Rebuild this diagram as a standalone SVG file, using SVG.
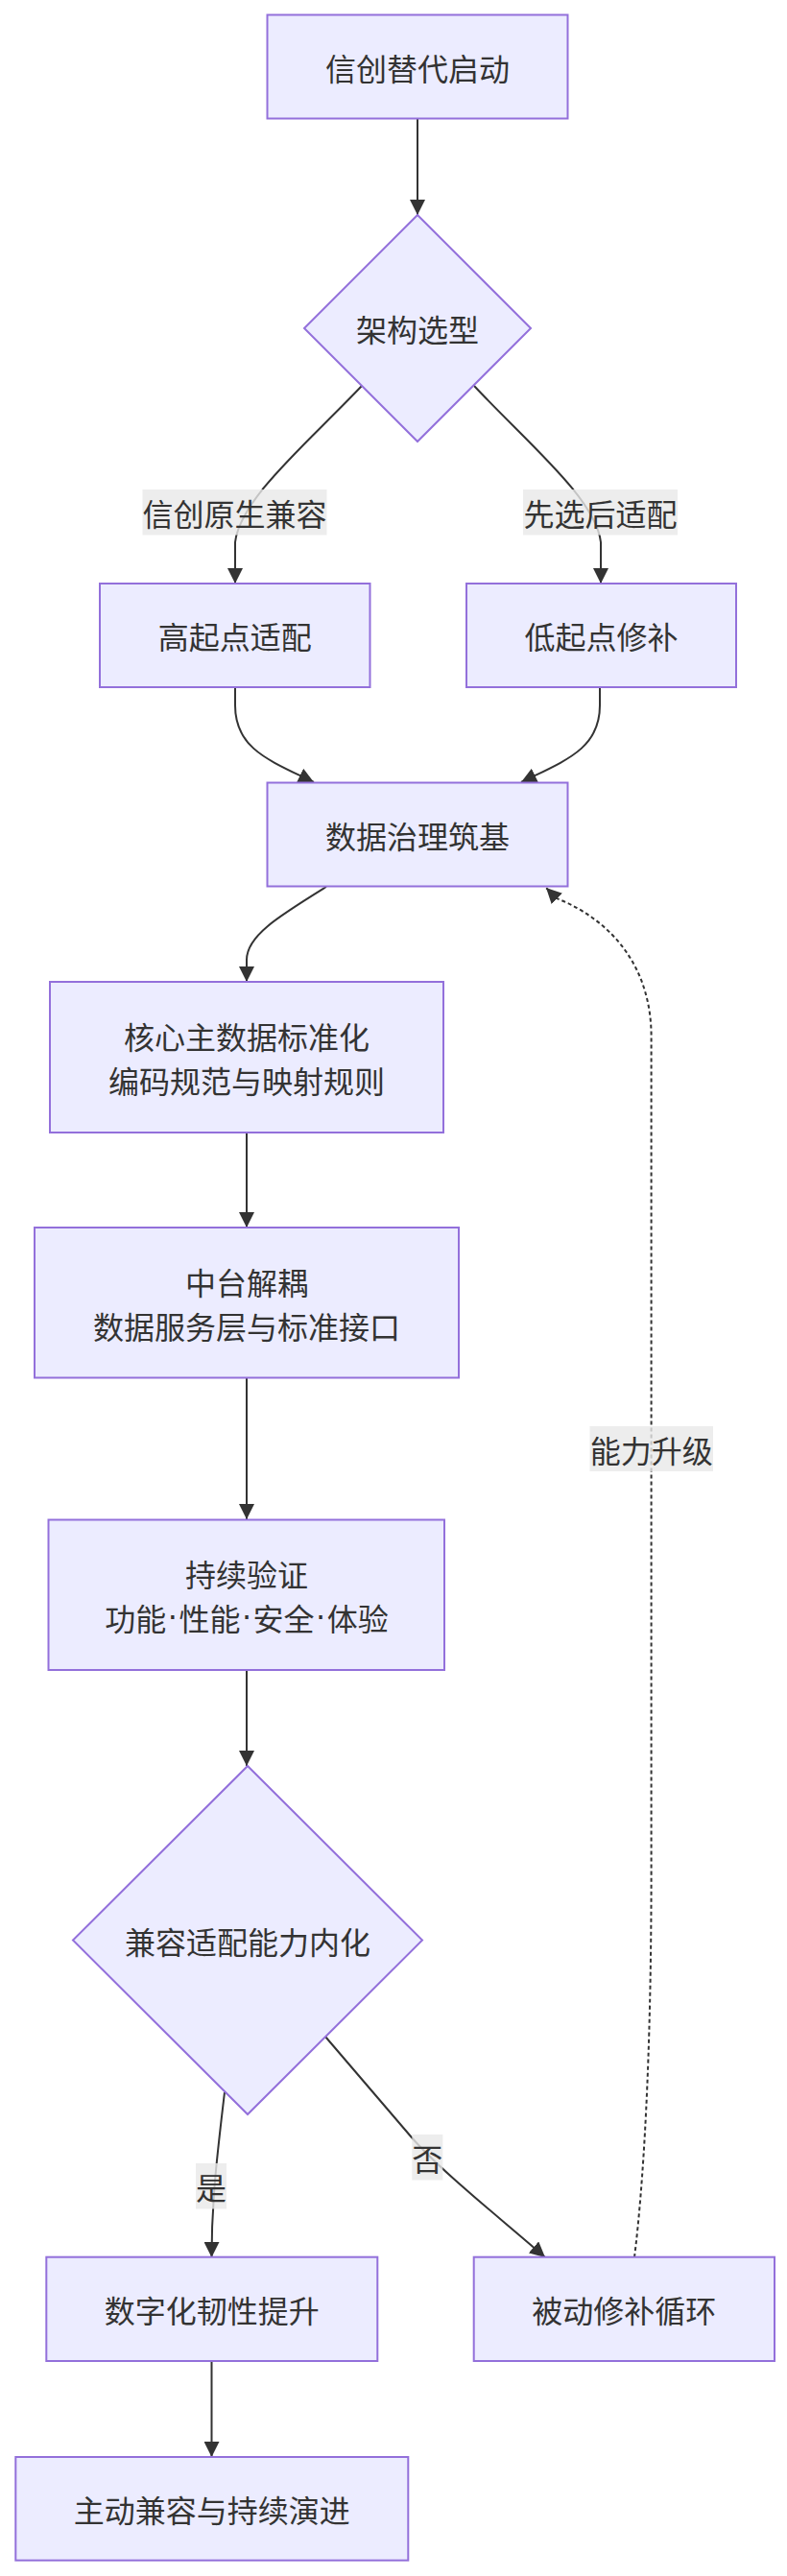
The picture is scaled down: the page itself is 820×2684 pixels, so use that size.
<svg xmlns="http://www.w3.org/2000/svg" width="820" height="2684" viewBox="0 0 820 2684">
<style>
.node rect,.node polygon{fill:#ECECFF;stroke:#9370DB;stroke-width:2}
.t{font-family:"Noto Sans CJK SC","Noto Sans",sans-serif;font-size:32px;fill:#333;text-anchor:middle;dominant-baseline:central}
.dot{font-family:"DejaVu Sans",sans-serif}
.e{fill:none;stroke:#333;stroke-width:2}
.d{stroke-dasharray:4 3}
.lb{fill:#e8e8e8;fill-opacity:0.8}
</style>
<defs>
<marker id="ah" viewBox="0 0 10 10" refX="10" refY="5" markerUnits="userSpaceOnUse" markerWidth="16" markerHeight="16" orient="auto">
<path d="M0,0 L10,5 L0,10 z" fill="#333"/>
</marker>
</defs>
<rect width="820" height="2684" fill="#fff"/>
<g id="edges">
<path class="e" d="M435,124 L435,224" marker-end="url(#ah)"/>
<path class="e" d="M377,402 C320,462 250,520 245,565 L245,608" marker-end="url(#ah)"/>
<path class="e" d="M494,402 C550,462 621,520 626,565 L626,608" marker-end="url(#ah)"/>
<path class="e" d="M245,716 L245,735 C245,780 280,792 327,815" marker-end="url(#ah)"/>
<path class="e" d="M625,716 L625,735 C625,780 590,792 543,815" marker-end="url(#ah)"/>
<path class="e" d="M340,924 C290,955 257,975 257,1000 L257,1023" marker-end="url(#ah)"/>
<path class="e" d="M257,1180 L257,1279" marker-end="url(#ah)"/>
<path class="e" d="M257,1435 L257,1583" marker-end="url(#ah)"/>
<path class="e" d="M257,1740 L257,1840" marker-end="url(#ah)"/>
<path class="e" d="M234,2180 C227,2240 220.5,2290 220.5,2352" marker-end="url(#ah)"/>
<path class="e" d="M339,2122 L428,2226 C460,2263 520,2310 568,2352" marker-end="url(#ah)"/>
<path class="e" d="M220.5,2460 L220.5,2560" marker-end="url(#ah)"/>
<path class="e d" d="M661,2352 C670,2280 678.6,2150 678.6,1950 L678.6,1080 C678.6,1010 640,960 580,936 L569,925" marker-end="url(#ah)"/>
<g id="edge-labels">
<rect class="lb" x="148.5" y="510" width="192" height="47.5"/>
<text class="t" x="244.5" y="534">信创原生兼容</text>
<rect class="lb" x="545" y="510" width="161" height="47.5"/>
<text class="t" x="625.5" y="534">先选后适配</text>
<rect class="lb" x="614.5" y="1486" width="128.5" height="47"/>
<text class="t" x="678.7" y="1509.5">能力升级</text>
<rect class="lb" x="204" y="2254" width="32" height="47.5"/>
<text class="t" x="220" y="2278">是</text>
<rect class="lb" x="429.3" y="2224" width="32" height="47.5"/>
<text class="t" x="445.3" y="2248">否</text>
</g>
</g>
<g id="A" class="node"><rect x="278.5" y="15.5" width="313" height="108"/><text class="t" x="435" y="69.5">信创替代启动</text></g>
<g id="B" class="node"><polygon points="435,224 553,342 435,460 317,342"/><text class="t" x="435" y="342">架构选型</text></g>
<g id="C" class="node"><rect x="104" y="608" width="281.5" height="108"/><text class="t" x="244.75" y="662">高起点适配</text></g>
<g id="D" class="node"><rect x="486" y="608" width="281" height="108"/><text class="t" x="626.5" y="662">低起点修补</text></g>
<g id="E" class="node"><rect x="278.5" y="815.5" width="313" height="108"/><text class="t" x="435" y="869.5">数据治理筑基</text></g>
<g id="F" class="node"><rect x="52" y="1023" width="410" height="157"/><text class="t" x="257" y="1079">核心主数据标准化</text><text class="t" x="257" y="1125">编码规范与映射规则</text></g>
<g id="G" class="node"><rect x="36" y="1279" width="442" height="156.5"/><text class="t" x="257" y="1335">中台解耦</text><text class="t" x="257" y="1381">数据服务层与标准接口</text></g>
<g id="H" class="node"><rect x="50.5" y="1583.5" width="412.5" height="156.5"/><text class="t" x="257" y="1639">持续验证</text><text class="t" x="257" y="1685">功能<tspan class="dot" dx="1.5">·</tspan><tspan dx="1.5">性能</tspan><tspan class="dot" dx="1.5">·</tspan><tspan dx="1.5">安全</tspan><tspan class="dot" dx="1.5">·</tspan><tspan dx="1.5">体验</tspan></text></g>
<g id="I" class="node"><polygon points="258,1840 440,2021.5 258,2203 76,2021.5"/><text class="t" x="258" y="2021.5">兼容适配能力内化</text></g>
<g id="J" class="node"><rect x="48.3" y="2351.7" width="345" height="108.3"/><text class="t" x="220.8" y="2406">数字化韧性提升</text></g>
<g id="K" class="node"><rect x="493.7" y="2351.7" width="313.3" height="108.3"/><text class="t" x="650.3" y="2406">被动修补循环</text></g>
<g id="L" class="node"><rect x="16.3" y="2560" width="409" height="107.7"/><text class="t" x="220.8" y="2614">主动兼容与持续演进</text></g>
</svg>
